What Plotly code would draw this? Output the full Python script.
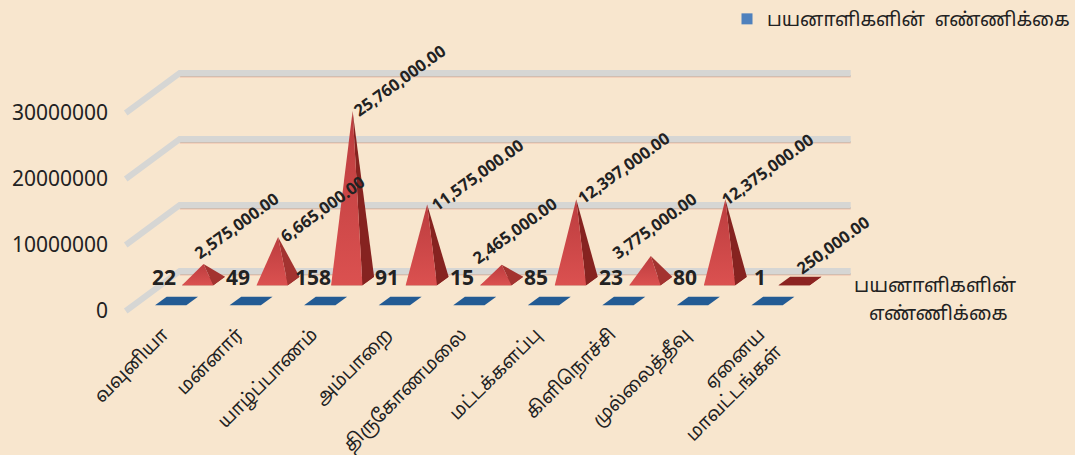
import plotly.graph_objects as go

categories = ["வவுனியா", "மன்னார்", "யாழ்ப்பாணம்", "அம்பாறை", "திருகோணமலை",
              "மட்டக்களப்பு", "கிளிநொச்சி", "முல்லைத்தீவு", "ஏனைய<br>மாவட்டங்கள்"]
passenger_counts = [22, 49, 158, 91, 15, 85, 23, 80, 1]
amounts = [2575000, 6665000, 25760000, 11575000, 2465000, 12397000, 3775000, 12375000, 250000]
y_ticks = [0, 10000000, 20000000, 30000000]
series_name = "பயனாளிகளின்\u00a0\u00a0எண்ணிக்கை"
axis_lines = ["பயனாளிகளின்", "எண்ணிக்கை"]

# layout helpers (oblique projection)
PX_X = 74.55
PX_Y = 6.6 / 1e6
DX = 54 / PX_X
DY = 40 / PX_Y
BG = "#F8E6CE"
FONT = "Noto Sans, Noto Sans Tamil, Lohit Tamil, sans-serif"
LABEL_SHIFT = [(-17, -3), (-5, -13), (-7, -13), (-3, -14), (-37, -7), (-6, -12), (-46, -11), (-12, -14), (-11, -2)]


def proj(i, v, d):
    return i + d * DX, v + d * DY


fig = go.Figure()

# wall grid lines
for v in y_ticks:
    x0, y0 = proj(-0.5, v, 0)
    x1, y1 = proj(-0.5, v, 1)
    x2, y2 = proj(8.5, v, 1)
    off = 3.2 / PX_Y
    fig.add_trace(go.Scatter(x=[x1, x2], y=[y1 - off * 1.25, y2 - off * 1.25], mode="lines",
                             line=dict(color="#F0BBA8", width=1), hoverinfo="skip", showlegend=False))
    fig.add_trace(go.Scatter(x=[x1, x2], y=[y1 - off * 0.85, y2 - off * 0.85], mode="lines",
                             line=dict(color="#ABABA8", width=1.5), hoverinfo="skip", showlegend=False))
    fig.add_trace(go.Scatter(x=[x0, x1, x2], y=[y0, y1, y2], mode="lines",
                             line=dict(color="#D6D6D4", width=6), hoverinfo="skip", showlegend=False))

W = 0.21
H = 0.108

# flat blue series
for i, c in enumerate(passenger_counts):
    d = 0.25
    pts = [proj(i - W, c, d - H), proj(i + W, c, d - H), proj(i + W, c, d + H), proj(i - W, c, d + H)]
    fig.add_trace(go.Scatter(x=[p[0] for p in pts], y=[p[1] for p in pts], mode="lines", fill="toself",
                             fillcolor="#235B94", line=dict(width=0), hoverinfo="skip", showlegend=False))

# pyramid series
for i, a in enumerate(amounts):
    d = 0.75
    fl = proj(i - W, 0, d - H)
    fr = proj(i + W, 0, d - H)
    br = proj(i + W, 0, d + H)
    bl = proj(i - W, 0, d + H)
    ap = proj(i, a, d)
    small = a < 1000000
    right = "#8C2422" if small else ("#A33330" if a < 8000000 else "#862320")
    fig.add_trace(go.Scatter(x=[fl[0], fr[0], br[0], bl[0]], y=[fl[1], fr[1], br[1], bl[1]], mode="lines",
                             fill="toself", fillcolor="#8C2422", line=dict(width=0),
                             hoverinfo="skip", showlegend=False))
    fig.add_trace(go.Scatter(x=[fr[0], br[0], ap[0]], y=[fr[1], br[1], ap[1]], mode="lines", fill="toself",
                             fillcolor=right, line=dict(width=0),
                             hoverinfo="skip", showlegend=False))
    fig.add_trace(go.Scatter(x=[fl[0], fr[0], ap[0]], y=[fl[1], fr[1], ap[1]], mode="lines", fill="toself",
                             fillcolor="#8C2422" if small else None,
                             fillgradient=None if small else dict(
                                 type="vertical",
                                 colorscale=[[0, "#DB5150"], [1, "#BB3C3E"]]),
                             line=dict(width=0), hoverinfo="skip", showlegend=False))

# legend entry
fig.add_trace(go.Scatter(x=[None], y=[None], mode="markers", name=series_name,
                         marker=dict(symbol="square", size=11, color="#4F81BD")))

ann = []
for i, c in enumerate(passenger_counts):
    x, y = proj(i, c, 0.25)
    ann.append(dict(x=x, y=y, text=str(c), showarrow=False, xshift=-13, yshift=24,
                    font=dict(family=FONT, size=21, color="#222222", weight="bold")))
for i, a in enumerate(amounts):
    x, y = proj(i, a, 0.75)
    sx, sy = LABEL_SHIFT[i]
    ann.append(dict(x=x, y=y, text=f"{a:,.2f}", showarrow=False, xanchor="left", yanchor="bottom",
                    textangle=-36, xshift=sx, yshift=sy,
                    font=dict(family=FONT, size=16.5, color="#222222", weight="bold")))
for line, px_x, val in zip(axis_lines, [10.36, 10.40], [4.0e6, -0.3e6]):
    ann.append(dict(x=px_x, y=val, text=line, showarrow=False,
                    font=dict(family=FONT, size=19.5, color="#222222")))

fig.update_layout(
    width=1075, height=455,
    autosize=False,
    paper_bgcolor=BG, plot_bgcolor=BG,
    margin=dict(l=110, r=0, t=0, b=136, autoexpand=False),
    font=dict(family=FONT, color="#222222"),
    annotations=ann,
    showlegend=True,
    legend=dict(x=1, xanchor="right", xref="paper", y=1.0, yanchor="top",
                bgcolor="rgba(0,0,0,0)", font=dict(family=FONT, size=19, color="#222222")),
    xaxis=dict(range=[(110 - 163) / PX_X, (1075 - 163) / PX_X], automargin=False,
               tickmode="array", tickvals=list(range(len(categories))), ticktext=categories,
               tickangle=-45, showgrid=False, zeroline=False, showline=False, ticks="",
               tickfont=dict(family=FONT, size=18.5, color="#222222")),
    yaxis=dict(range=[-8 / 6.6 * 1e6, 311 / 6.6 * 1e6], automargin=False,
               tickmode="array", tickvals=y_ticks, ticktext=[str(v) for v in y_ticks],
               showgrid=False, zeroline=False, showline=False, ticks="",
               ticklabelstandoff=1,
               tickfont=dict(family=FONT, size=21, color="#222222")),
)

fig.write_html("out.html", config={"displayModeBar": False},
               post_script="document.body.style.margin='0';document.body.style.overflow='hidden';document.body.style.background='#F8E6CE';")
